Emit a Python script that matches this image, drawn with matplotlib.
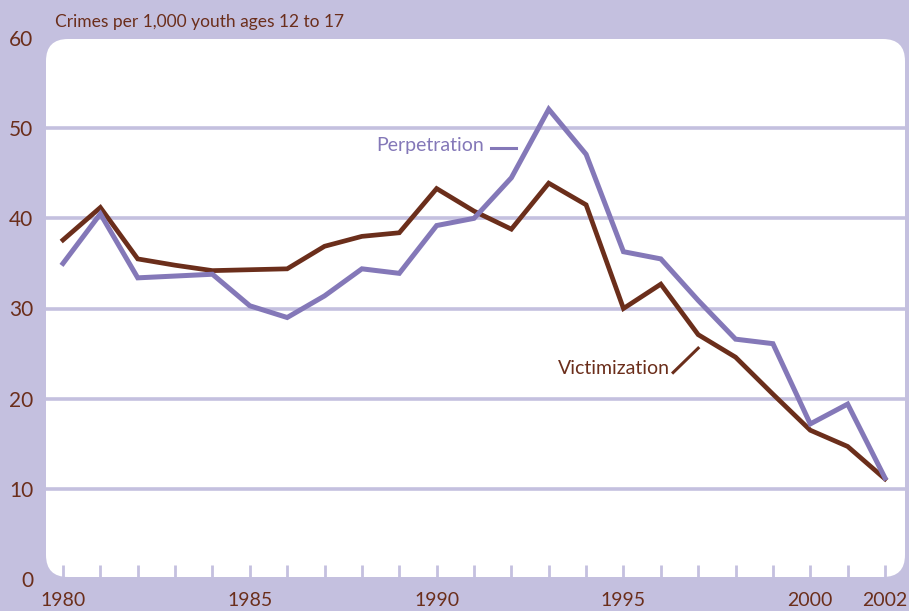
import matplotlib.pyplot as plt
from matplotlib.patches import FancyBboxPatch

# values
years = list(range(1980, 2003))
perpetration = [35.0, 40.5, 33.4, 33.6, 33.8, 30.3, 29.0, 31.4, 34.4, 33.9, 39.2, 40.0,
                44.5, 52.1, 47.1, 36.3, 35.5, 30.9, 26.6, 26.1, 17.2, 19.4, 11.2]
victimization = [37.6, 41.2, 35.5, 34.8, 34.2, 34.3, 34.4, 36.9, 38.0, 38.4, 43.3, 40.8,
                 38.8, 43.9, 41.5, 30.0, 32.7, 27.1, 24.6, 20.5, 16.5, 14.7, 11.1]
label_years = [1980, 1985, 1990, 1995, 2000, 2002]
y_ticks = [0, 10, 20, 30, 40, 50, 60]

lav = '#C4C0DF'
purple = '#8478B8'
brown = '#6B2E1B'

plt.rcParams['font.family'] = ['Lato', 'DejaVu Sans']

W, H = 909, 611
fig = plt.figure(figsize=(W / 100, H / 100), dpi=100, facecolor=lav)

ax = fig.add_axes([46 / W, (H - 579) / H, (905 - 46) / W, (579 - 38) / H])
ax.set_facecolor('none')
for s in ax.spines.values():
    s.set_visible(False)

# white panel with rounded corners
x0, x1, y0, y1 = 46, 905, 34, 572  # pixels from bottom
panel = FancyBboxPatch((x0 / W, y0 / H), (x1 - x0) / W, (y1 - y0) / H,
                       boxstyle='round,pad=0,rounding_size=%f' % (22 / W),
                       mutation_aspect=W / H, transform=fig.transFigure,
                       facecolor='white', edgecolor='none', zorder=0, clip_on=False)
ax.add_patch(panel)

for v in y_ticks[1:-1]:
    ax.axhline(v, color=lav, lw=2.6, zorder=1)

ax.plot(years, perpetration, color=purple, lw=3.6, zorder=3, solid_joinstyle='miter')
ax.plot(years, victimization, color=brown, lw=3.4, zorder=2, solid_joinstyle='miter')

ax.set_xlim(1979.545, 2002.535)
ax.set_ylim(0, 60)
ax.set_xticks(years)
ax.set_xticklabels([str(y) if y in label_years else '' for y in years])
ax.tick_params(axis='x', direction='in', length=10, width=2, color=lav,
               labelsize=14, labelcolor=brown, pad=9)
ax.set_yticks(y_ticks)
ax.tick_params(axis='y', length=0, labelsize=15, labelcolor=brown, pad=9)

ax.text(1988.38, 48.1, 'Perpetration', color=purple, fontsize=14, va='center', ha='left')
ax.plot([1991.45, 1992.13], [47.8, 47.8], color=purple, lw=2.2)
ax.text(1996.25, 23.4, 'Victimization', color=brown, fontsize=14, va='center', ha='right')
ax.plot([1996.33, 1997.0], [22.9, 25.6], color=brown, lw=2.2)

fig.text(55 / W, (H - 22) / H, 'Crimes per 1,000 youth ages 12 to 17', color=brown,
         fontsize=12.5, va='center', ha='left')

fig.savefig('out.png', dpi=100, facecolor=lav)
